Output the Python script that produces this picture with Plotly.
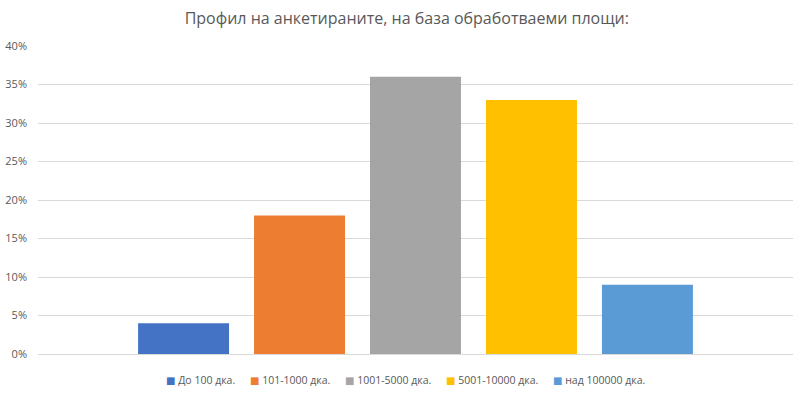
import plotly.graph_objects as go

title = "Профил на анкетираните, на база обработваеми площи:"
series_names = ["До 100 дка.", "101-1000 дка.", "1001-5000 дка.", "5001-10000 дка.", "над 100000 дка."]
series_values = [0.04, 0.18, 0.36, 0.33, 0.09]
series_colors = ["#4472C4", "#ED7D31", "#A5A5A5", "#FFC000", "#5B9BD5"]
category = [""]
y_ticks = [0, 0.05, 0.10, 0.15, 0.20, 0.25, 0.30, 0.35, 0.40]

font_family = "Open Sans, Noto Sans, DejaVu Sans, sans-serif"
W, H = 804, 399
ML, MR, MT, MB = 38, 11, 46, 45
PW, PH = W - ML - MR, H - MT - MB

fig = go.Figure()
for name, val, col in zip(series_names, series_values, series_colors):
    fig.add_trace(go.Bar(x=category, y=[val], name=name, marker=dict(color=col, line=dict(width=0)),
                         hoverinfo="name+y", showlegend=False))

# legend drawn as text items (square swatch + label), Excel style
legend_px = [164, 248, 343, 444, 551]   # left edge of each item in pixels
legend_y_px = 380
for name, col, px in zip(series_names, series_colors, legend_px):
    fig.add_annotation(
        xref="paper", yref="paper", x=(px - ML) / PW, y=-(legend_y_px - (H - MB)) / PH,
        xanchor="left", yanchor="middle", showarrow=False,
        text=f"<span style='color:{col};font-size:10px'>■</span> {name}",
        font=dict(family=font_family, size=10.5, color="#595959"),
    )

fig.update_layout(
    width=W, height=H,
    margin=dict(l=ML, r=MR, t=MT, b=MB),
    paper_bgcolor="white", plot_bgcolor="white",
    barmode="group", bargap=0.232, bargroupgap=0.2155,
    title=dict(text=title, xref="container", x=0.506, xanchor="center",
               yref="container", y=1 - 18 / H, yanchor="middle",
               font=dict(family=font_family, size=16, color="#595959")),
    font=dict(family=font_family, color="#595959"),
    showlegend=False,
)
fig.update_xaxes(range=[-0.5, 0.5], showticklabels=False, showgrid=False, zeroline=False,
                 showline=False, fixedrange=True, automargin=False)
fig.update_yaxes(range=[0, 0.4], tickvals=y_ticks, tickformat=".0%", showgrid=True,
                 gridcolor="#D9D9D9", gridwidth=1, zeroline=True, zerolinecolor="#D9D9D9",
                 zerolinewidth=1, showline=False, ticks="", ticklabelstandoff=10,
                 automargin=False, tickfont=dict(size=11, color="#595959"))

fig.write_html("out.html", config={"displayModeBar": False},
               post_script="document.body.style.margin='0';")
